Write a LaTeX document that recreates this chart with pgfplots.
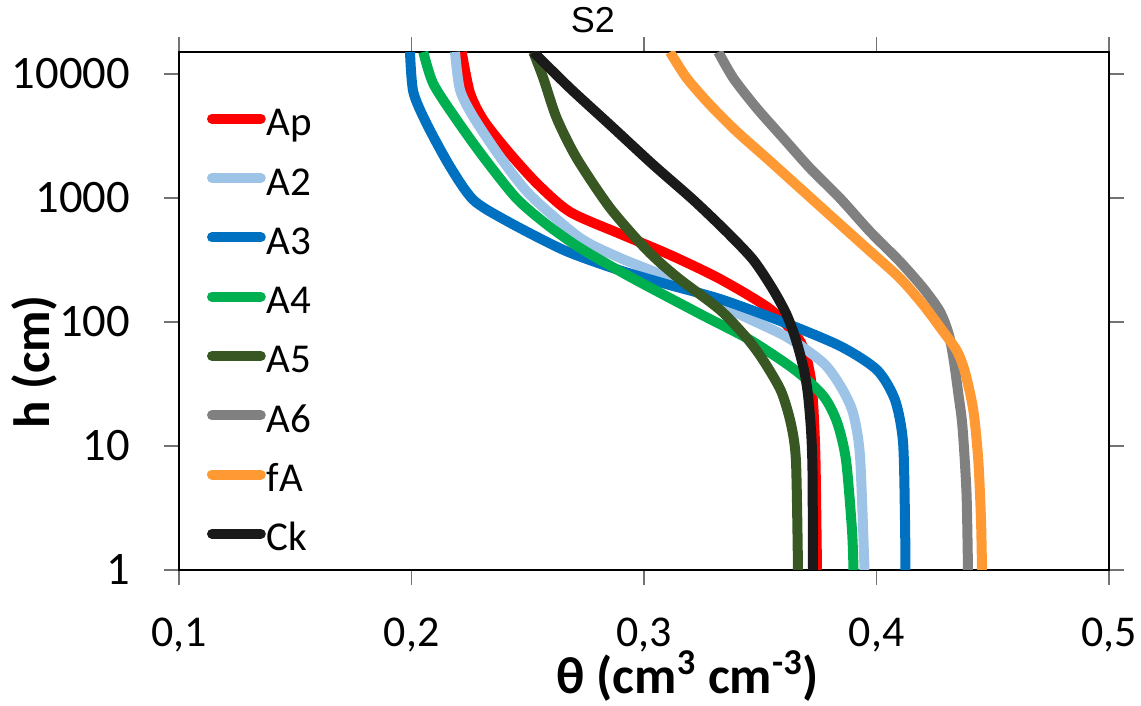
\documentclass[border=0pt]{standalone}
\usepackage{fontspec}
\setmainfont{Carlito}
\newfontfamily\arialfont{Liberation Sans}
\usepackage{pgfplots}
\pgfplotsset{compat=1.18}
\definecolor{cAp}{RGB}{255,0,0}
\definecolor{cA2}{RGB}{157,195,230}
\definecolor{cA3}{RGB}{0,112,192}
\definecolor{cA4}{RGB}{0,176,80}
\definecolor{cA5}{RGB}{56,87,35}
\definecolor{cA6}{RGB}{128,128,128}
\definecolor{cfA}{RGB}{255,153,51}
\definecolor{cCk}{RGB}{26,26,26}
\begin{document}
\begin{tikzpicture}
\begin{axis}[
  scale only axis, width=465pt, height=259pt,
  xmin=0.1, xmax=0.5, ymode=log, ymin=1, ymax=15000,
  xtick={0.1,0.2,0.3,0.4,0.5}, xticklabels={{0,1},{0,2},{0,3},{0,4},{0,5}},
  ytick={1,10,100,1000,10000}, yticklabels={1,10,100,1000,10000},
  yminorticks=false, xminorticks=false,
  tick align=outside, major tick length=7.5pt,
  tick style={color=black!55, line width=0.7pt},
  axis line style={line width=1.3pt, black},
  /pgf/number format/assume math mode=true,
  xticklabel style={font=\fontsize{22}{26}\selectfont, yshift=-13pt},
  yticklabel style={font=\fontsize{23.3}{27}\selectfont, xshift=-13.5pt},
  title={S2},
  title style={font=\arialfont\fontsize{18}{21}\selectfont, at={(axis description cs:0.445,1.0135)}, anchor=base, inner sep=0pt},
  xlabel={θ (cm\textsuperscript{3} cm\textsuperscript{-3})},
  xlabel style={font=\fontsize{26}{30}\selectfont\bfseries, at={(axis description cs:0.547,-0.2375)}, anchor=base, inner sep=0pt},
  ylabel={h (cm)},
  ylabel style={font=\fontsize{25.5}{30}\selectfont\bfseries, at={(axis description cs:-0.139,0.4015)}, anchor=base, inner sep=0pt},
  legend cell align=left,
  legend image code/.code={\draw[#1, line cap=round] (0pt,0.35em) -- (24.4pt,0.35em); \path (24.8pt,0pt);},
  legend style={at={(axis description cs:0.0297,0.897)}, anchor=north west, draw=none, fill=none,
    inner sep=0pt, row sep=9.65pt, font=\fontsize{20.5}{24}\selectfont,
    nodes={inner sep=0pt, text height=15pt, text depth=5pt}},
  every axis plot/.append style={line width=5pt, smooth, tension=0.45},
]
\coordinate (sw) at (rel axis cs:0,0);
\addplot[cAp] coordinates {(0.22159,15000) (0.22516,7027) (0.23088,4256) (0.24095,2438) (0.25385,1314) (0.26817,771) (0.28968,513) (0.31118,347) (0.33269,222) (0.35419,127) (0.36624,74.3) (0.36968,53.2) (0.37183,34.1) (0.37290,19.5) (0.37376,7.71) (0.37441,1)};
\addlegendentry{Ap}
\addplot[cA2] coordinates {(0.21871,15000) (0.22086,7430) (0.22658,4501) (0.23806,2141) (0.25097,1057) (0.27247,476) (0.28968,328) (0.31118,224) (0.33914,120) (0.36138,75.7) (0.37712,46.7) (0.38473,29.9) (0.38989,18.5) (0.39290,8.31) (0.39484,1)};
\addlegendentry{A2}
\addplot[cA3] coordinates {(0.19935,15000) (0.20077,7157) (0.20654,3953) (0.21656,1788) (0.22658,963) (0.24095,652) (0.26529,381) (0.28680,271) (0.30830,205) (0.33269,153) (0.35849,102) (0.38430,64.0) (0.40022,41.0) (0.40796,23.5) (0.41140,10.8) (0.41226,2.53) (0.41247,1)};
\addlegendentry{A3}
\addplot[cA4] coordinates {(0.20508,15000) (0.20938,8305) (0.21944,4256) (0.23088,2141) (0.24495,1000) (0.25785,617) (0.27247,395) (0.29398,231) (0.32409,116) (0.34559,71.6) (0.36495,41.0) (0.37712,25.3) (0.38301,15.6) (0.38688,7.71) (0.38946,2.10) (0.39011,1)};
\addlegendentry{A4}
\addplot[cA5] coordinates {(0.25239,15000) (0.25669,9234) (0.26245,4392) (0.27105,2091) (0.28538,831) (0.30116,381) (0.31406,231) (0.33269,125) (0.34417,74.3) (0.35118,49.4) (0.35892,27.8) (0.36323,15.0) (0.36538,7.43) (0.36624,1)};
\addlegendentry{A5}
\addplot[cA6] coordinates {(0.33196,15000) (0.33841,9234) (0.34847,5289) (0.35991,3030) (0.37140,1736) (0.38430,994) (0.39720,535) (0.41011,306) (0.42013,187) (0.42731,121) (0.43118,78.6) (0.43333,47.6) (0.43527,25.8) (0.43699,14.2) (0.43871,4.18) (0.43935,1)};
\addlegendentry{A6}
\addplot[cfA] coordinates {(0.31118,15000) (0.31837,9234) (0.32839,5623) (0.33987,3425) (0.35277,2091) (0.36710,1197) (0.38142,686) (0.39578,393) (0.41011,225) (0.42013,137) (0.42817,86.2) (0.43462,58.3) (0.43806,39.5) (0.44163,19.5) (0.44378,7.71) (0.44495,2.53) (0.44538,1)};
\addlegendentry{fA}
\addplot[cCk] coordinates {(0.25239,15000) (0.26817,7665) (0.28538,3879) (0.30400,1846) (0.32120,963) (0.33557,532) (0.34701,316) (0.35561,181) (0.36138,114) (0.36538,71.6) (0.36882,41.0) (0.37054,25.8) (0.37183,13.5) (0.37247,6.4) (0.37269,1)};
\addlegendentry{Ck}
\end{axis}
\pgfresetboundingbox
\path ([xshift=-89.5pt,yshift=-68pt]sw) rectangle ([xshift=481pt,yshift=285pt]sw);
\end{tikzpicture}
\end{document}
